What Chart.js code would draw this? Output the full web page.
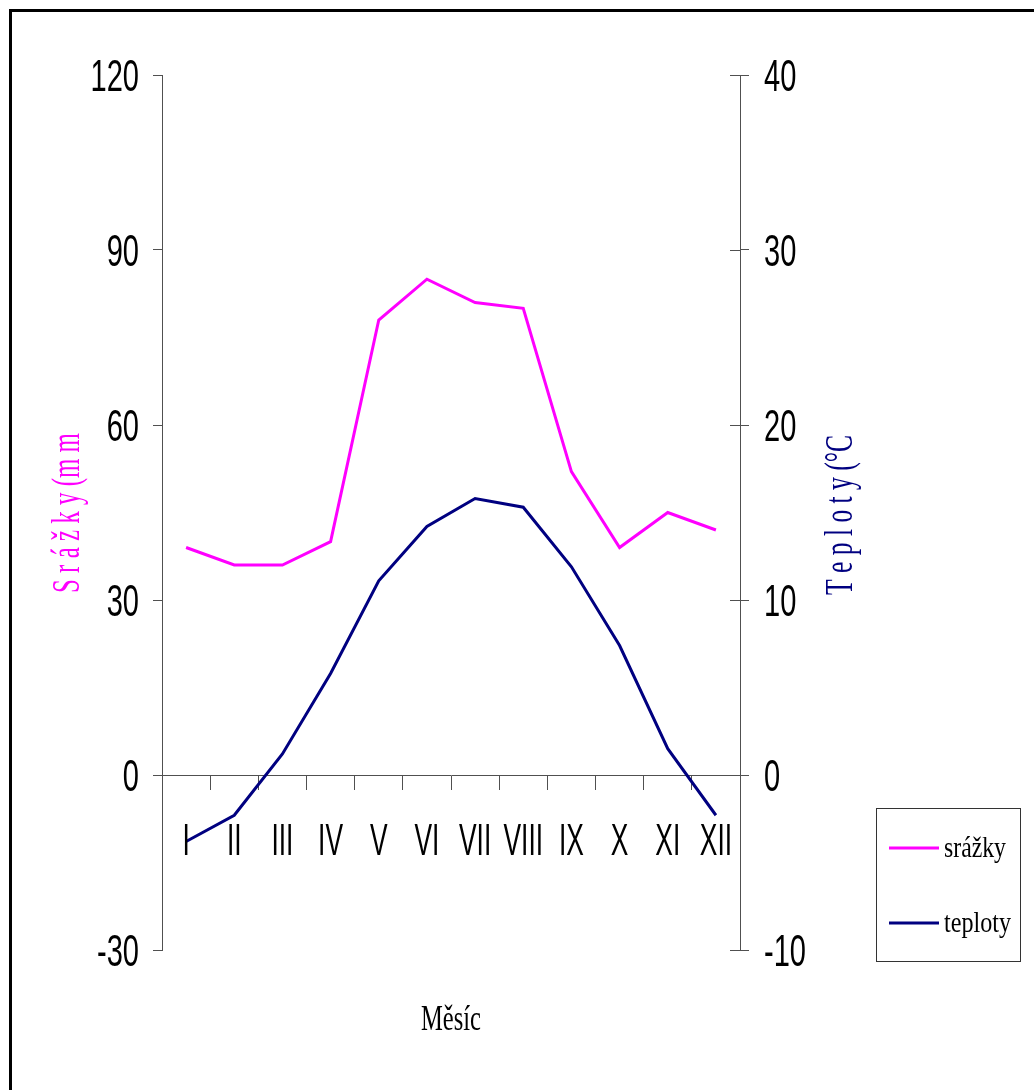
<!DOCTYPE html>
<html>
<head>
<meta charset="utf-8">
<title>Srážky a teploty</title>
<script src="https://cdn.jsdelivr.net/npm/chart.js@4/dist/chart.umd.min.js"></script>
<style>
    html, body { margin: 0; padding: 0; background: #fff; }
    canvas { display: block; }
</style>
</head>
<body>
<canvas id="climate" width="1034" height="1090"></canvas>
<script>
const months = ["I", "II", "III", "IV", "V", "VI", "VII", "VIII", "IX", "X", "XI", "XII"];
const precipitation = [39, 36, 36, 40, 78, 85, 81, 80, 52, 39, 45, 42];
const temperature = [-3.8, -2.3, 1.2, 5.8, 11.1, 14.2, 15.8, 15.3, 11.9, 7.4, 1.5, -2.3];
const precipRange = [-30, 120];
const tempRange = [-10, 40];

const axisColor = "#505050";

// draws text squeezed horizontally (along its own direction), optionally rotated
function squeezedText(ctx, text, x, y, font, color, opts) {
    ctx.save();
    ctx.font = font;
    ctx.fillStyle = color;
    ctx.textBaseline = "alphabetic";
    ctx.textAlign = opts.align || "left";
    ctx.translate(x, y);
    if (opts.angle) ctx.rotate(opts.angle);
    const w = ctx.measureText(text).width;
    const sx = opts.width ? opts.width / w : (opts.scaleX || 1);
    ctx.scale(sx, 1);
    ctx.fillText(text, 0, 0);
    ctx.restore();
}

const decorations = {
    id: "decorations",
    afterDraw(chart) {
        const ctx = chart.ctx;
        const { x, y, y1 } = chart.scales;
        const area = chart.chartArea;

        // right axis ticks cross the axis line
        ctx.save();
        ctx.strokeStyle = axisColor;
        ctx.lineWidth = 1;
        y1.ticks.forEach(t => {
            const py = Math.round(y1.getPixelForValue(t.value)) + 0.5;
            ctx.beginPath();
            ctx.moveTo(area.right - 10, py);
            ctx.lineTo(area.right, py);
            ctx.stroke();
        });
        ctx.restore();

        const tickFont = '44px "Liberation Sans", Arial, sans-serif';
        y.ticks.forEach(t => {
            const py = y.getPixelForValue(t.value);
            squeezedText(ctx, String(t.value), 139, py + 16, tickFont, "#000", { align: "right", scaleX: 0.66 });
        });
        y1.ticks.forEach(t => {
            const py = y1.getPixelForValue(t.value);
            squeezedText(ctx, String(t.value), 764, py + 16, tickFont, "#000", { align: "left", scaleX: 0.66 });
        });
        months.forEach((m, i) => {
            squeezedText(ctx, m, x.getPixelForValue(i), 855, tickFont, "#000", { align: "center", scaleX: 0.6 });
        });

        // axis titles
        const serif = '"Liberation Serif", "Times New Roman", serif';
        squeezedText(ctx, "S r á ž k y (m m", 79, 513, "39px " + serif, "#FF00FF",
            { align: "center", angle: -Math.PI / 2, width: 160 });
        squeezedText(ctx, "T e p l o t y (°C", 852, 515, "40px " + serif, "#000080",
            { align: "center", angle: -Math.PI / 2, width: 160 });
        squeezedText(ctx, "Měsíc", (area.left + area.right) / 2, 1030, "36px " + serif, "#000",
            { align: "center", width: 60 });

        // legend box
        ctx.save();
        ctx.strokeStyle = "#333";
        ctx.lineWidth = 1;
        ctx.strokeRect(876.5, 808.5, 144, 153);
        const rows = [{ y: 848, w: 62 }, { y: 923, w: 67 }];
        chart.data.datasets.forEach((ds, i) => {
            const r = rows[i];
            ctx.strokeStyle = ds.borderColor;
            ctx.lineWidth = 3;
            ctx.beginPath();
            ctx.moveTo(889, r.y);
            ctx.lineTo(939, r.y);
            ctx.stroke();
            squeezedText(ctx, ds.label, 944, r.y + 9, "30px " + serif, "#000", { width: r.w });
        });
        ctx.restore();

        // frame edges along the top and left of the sheet
        ctx.save();
        ctx.strokeStyle = "#000";
        ctx.lineWidth = 3;
        ctx.beginPath();
        ctx.moveTo(10.5, 1090);
        ctx.lineTo(10.5, 10.5);
        ctx.lineTo(1034, 10.5);
        ctx.stroke();
        ctx.restore();
    }
};

new Chart(document.getElementById("climate"), {
    type: "line",
    data: {
        labels: months,
        datasets: [
            {
                label: "srážky",
                data: precipitation,
                yAxisID: "y",
                borderColor: "#FF00FF",
                borderWidth: 3,
                pointRadius: 0,
                tension: 0,
                fill: false
            },
            {
                label: "teploty",
                data: temperature,
                yAxisID: "y1",
                borderColor: "#000080",
                borderWidth: 3,
                pointRadius: 0,
                tension: 0,
                fill: false
            }
        ]
    },
    options: {
        responsive: false,
        animation: false,
        devicePixelRatio: 1,
        layout: { padding: { left: 142, right: 274, top: 75, bottom: 140 } },
        plugins: {
            legend: { display: false },
            tooltip: { enabled: false }
        },
        scales: {
            x: {
                type: "category",
                position: { y: 0 },
                offset: true,
                grid: { offset: true, drawOnChartArea: false, drawTicks: true, tickLength: 14, color: axisColor },
                border: { display: true, color: axisColor },
                ticks: { display: false }
            },
            y: {
                position: "left",
                min: precipRange[0],
                max: precipRange[1],
                ticks: { stepSize: 30, display: false },
                grid: { drawOnChartArea: false, tickLength: 9, color: axisColor },
                border: { color: axisColor },
                afterFit(scale) { scale.width = 20; }
            },
            y1: {
                position: "right",
                min: tempRange[0],
                max: tempRange[1],
                ticks: { stepSize: 10, display: false },
                grid: { drawOnChartArea: false, tickLength: 9, color: axisColor },
                border: { color: axisColor },
                afterFit(scale) { scale.width = 20; }
            }
        }
    },
    plugins: [decorations]
});
</script>
</body>
</html>
